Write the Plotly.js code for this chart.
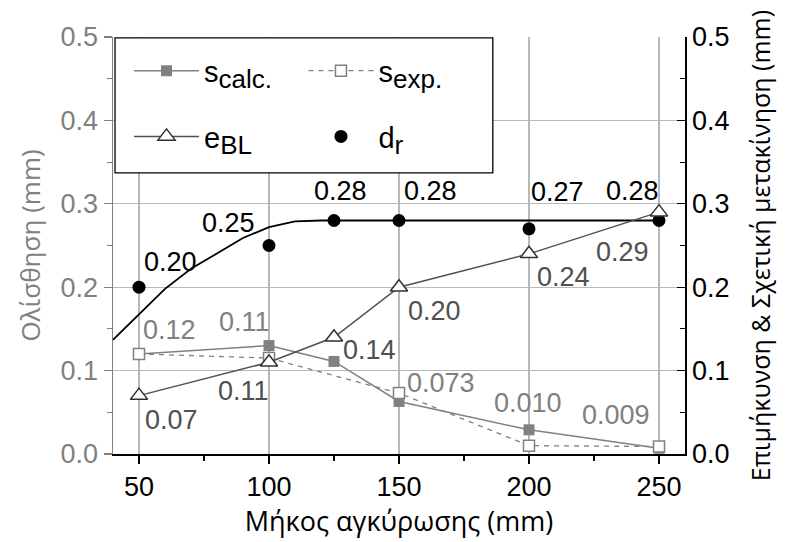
<!DOCTYPE html>
<html>
<head>
<meta charset="utf-8">
<script src="https://cdn.plot.ly/plotly-3.0.1.min.js"></script>
<style>html,body{margin:0;padding:0;background:#fff;}#chart{width:788px;height:542px;}</style>
</head>
<body>
<div id="chart"></div>
<script>
// ---- data ----
const lengths = [50, 100, 125, 150, 200, 250];
const sCalc = [0.12, 0.13, 0.111, 0.063, 0.029, 0.007];
const sExp = [0.12, 0.115, null, 0.073, 0.010, 0.009];
const eBL = [0.07, 0.11, 0.14, 0.20, 0.24, 0.29];
const dR = [0.20, 0.25, 0.28, 0.28, 0.27, 0.28];
const fitX = [40, 50, 60, 70, 80, 90, 100, 110, 120, 250];
const fitY = [0.137, 0.168, 0.198, 0.222, 0.241, 0.259, 0.272, 0.279, 0.28, 0.28];

const sExpLabels = ['0.12', '0.11', '', '0.073', '0.010', '0.009'];
const eBLLabels = ['0.07', '0.11', '0.14', '0.20', '0.24', '0.29'];
const dRLabels = ['0.20', '0.25', '0.28', '0.28', '0.27', '0.28'];

const xTicks = [50, 100, 150, 200, 250];
const yTicks = [0, 0.1, 0.2, 0.3, 0.4, 0.5];

// ---- label offsets (px) ----
const sExpOff = [[30, 24], [-25, 36], [0, 0], [42, 10], [-1, 43], [-43, 31]];
const eBLOff = [[32, -24], [-26, -29], [35, -13], [35, -24], [34, -23], [-37, -40]];
const dROff = [[31, 25], [-41, 23], [6, 29], [31, 29], [28, 37], [-27, 29]];

const FONT = 'Liberation Sans, Arial, sans-serif';
const TFONT = 'Open Sans, Noto Sans, sans-serif';
const GRAY = '#808080';
const DGRAY = '#505050';

const traces = [
  {x: fitX, y: fitY, yaxis: 'y2', mode: 'lines', line: {color: '#000', width: 1.8}, showlegend: false, hoverinfo: 'skip'},
  {x: lengths, y: dR, yaxis: 'y2', mode: 'markers', name: 'd<sub><span style="font-size:26px">r</span></sub>',
   marker: {symbol: 'circle', size: 13, color: '#000'}, legend: 'legend2', legendgroup: 'd', legendrank: 2},
  {x: lengths, y: sCalc, mode: 'lines+markers', name: 's<sub><span style="font-size:26px">calc.</span></sub>',
   line: {color: GRAY, width: 1.5}, marker: {symbol: 'square', size: 11, color: GRAY}, legend: 'legend', legendgroup: 'a', legendrank: 1},
  {x: lengths, y: sExp, mode: 'lines+markers', connectgaps: true, name: 's<sub><span style="font-size:26px">exp.</span></sub>',
   line: {color: GRAY, width: 1.3, dash: '5px,5px'}, marker: {symbol: 'square', size: 11, color: '#fff', line: {width: 1.5, color: GRAY}},
   legend: 'legend2', legendgroup: 'c', legendrank: 1},
  {x: lengths, y: eBL, yaxis: 'y2', mode: 'lines+markers', name: 'e<sub><span style="font-size:26px">BL</span></sub>',
   line: {color: DGRAY, width: 1.5}, marker: {symbol: 'triangle-up', size: 15, color: '#fff', line: {width: 1.5, color: '#303030'}},
   legend: 'legend', legendgroup: 'b', legendrank: 2}
];

const annotations = [];
function addLabels(vals, labels, offs, color, yref) {
  vals.forEach((v, i) => {
    if (v === null || !labels[i]) return;
    annotations.push({x: lengths[i], y: v, xref: 'x', yref: yref, text: labels[i], showarrow: false,
      xshift: offs[i][0], yshift: offs[i][1], font: {family: FONT, size: 27, color: color}});
  });
}
addLabels(sExp, sExpLabels, sExpOff, GRAY, 'y');
addLabels(eBL, eBLLabels, eBLOff, DGRAY, 'y2');
addLabels(dR, dRLabels, dROff, '#000', 'y2');

const legendCommon = {orientation: 'v', bgcolor: 'rgba(0,0,0,0)', borderwidth: 0, itemwidth: 65,
  traceorder: 'grouped', tracegroupgap: 25, font: {family: FONT, size: 29, color: '#000'},
  xanchor: 'left', yanchor: 'top', itemclick: false};

const layout = {
  width: 788, height: 542,
  margin: {l: 113, r: 103, t: 37, b: 88, pad: 0},
  paper_bgcolor: '#fff', plot_bgcolor: '#fff',
  font: {family: FONT, size: 27, color: '#000'},
  showlegend: true,
  xaxis: {range: [40, 260], tickvals: xTicks, ticks: 'outside', ticklen: 8, tickwidth: 1.2, tickcolor: '#000',
    minor: {dtick: 25, tick0: 25, ticks: 'outside', ticklen: 5, tickcolor: '#000', showgrid: false},
    showline: true, linecolor: '#000', linewidth: 1.5, showgrid: true, gridcolor: '#b8b8b8', gridwidth: 1.2,
    zeroline: false, tickfont: {family: FONT, size: 27, color: '#000'},
    title: {text: 'Μήκος αγκύρωσης (mm)', font: {family: TFONT, size: 27, color: '#000'}, standoff: 10}},
  yaxis: {range: [0, 0.5], tickvals: yTicks, tickformat: '.1f', ticks: 'outside', ticklen: 8, tickwidth: 1.2, tickcolor: GRAY,
    minor: {dtick: 0.05, ticks: 'outside', ticklen: 5, tickcolor: GRAY, showgrid: false},
    showline: true, linecolor: GRAY, linewidth: 1.5, showgrid: true, gridcolor: '#b8b8b8', gridwidth: 1.2, zeroline: false,
    tickfont: {family: FONT, size: 27, color: GRAY},
    title: {text: 'Ολίσθηση (mm)', font: {family: TFONT, size: 26, color: GRAY}, standoff: 12}},
  yaxis2: {overlaying: 'y', side: 'right', range: [0, 0.5], tickvals: yTicks, tickformat: '.1f', ticks: 'inside', ticklen: 8,
    tickwidth: 1.2, tickcolor: '#000',
    minor: {dtick: 0.05, ticks: 'inside', ticklen: 5, tickcolor: '#000', showgrid: false},
    showline: true, linecolor: '#000', linewidth: 1.5, showgrid: false, zeroline: false,
    tickfont: {family: FONT, size: 27, color: '#000'},
    title: {text: 'Επιμήκυνση &amp; Σχετική μετακίνηση (mm)', font: {family: TFONT, size: 25, color: '#000'}, standoff: 24}},
  legend: Object.assign({x: 0.028, y: 0.98}, legendCommon),
  legend2: Object.assign({x: 0.333, y: 0.98}, legendCommon),
  shapes: [{type: 'rect', xref: 'paper', yref: 'paper', x0: 0.0035, x1: 0.664, y0: 0.674, y1: 0.998,
    line: {color: '#000', width: 1.3}, fillcolor: '#fff', layer: 'above'}],
  annotations: annotations
};

Plotly.newPlot('chart', traces, layout, {displayModeBar: false, staticPlot: true});
</script>
</body>
</html>
